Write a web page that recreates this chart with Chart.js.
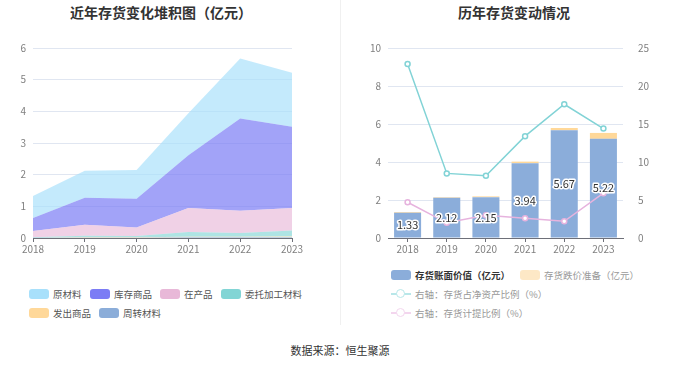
<!DOCTYPE html>
<html>
<head>
<meta charset="utf-8">
<script src="https://cdn.jsdelivr.net/npm/chart.js@4.4.1/dist/chart.umd.min.js"></script>
<style>
  body { margin: 0; background: #fff; font-family: "Noto Sans CJK SC", sans-serif; }
  #page { position: relative; width: 680px; height: 367px; overflow: hidden; }
  .title { position: absolute; top: 2px; font-size: 14px; font-weight: bold; color: #333; transform: translateX(-50%); white-space: nowrap; }
  .box { position: absolute; top: 0; width: 340px; height: 262px; }
  .divider { position: absolute; left: 340px; top: 0; width: 1px; height: 325px; background: #f0f0f0; }
  .leg { position: absolute; display: flex; align-items: center; font-size: 9.5px; color: #555; white-space: nowrap; transform: translateY(-50%); }
  .sw { width: 20px; height: 10px; border-radius: 3px; margin-right: 4px; }
  .lm { position: relative; width: 20px; height: 10px; margin-right: 4px; }
  .lm i { position: absolute; left: 0; top: 4px; width: 20px; height: 1.5px; }
  .lm b { position: absolute; left: 5px; top: 0; width: 7px; height: 7px; border-radius: 50%; background: #fff; border: 1.5px solid; }
  #source { position: absolute; left: 0; width: 680px; top: 342px; text-align: center; font-size: 11px; color: #333; }
</style>
</head>
<body>
<div id="page">
  <div class="title" style="left:161px">近年存货变化堆积图（亿元）</div>
  <div class="title" style="left:514px">历年存货变动情况</div>
  <div class="box" style="left:0"><canvas id="stackChart" width="340" height="262"></canvas></div>
  <div class="box" style="left:340px"><canvas id="barChart" width="340" height="262"></canvas></div>
  <div class="divider"></div>
  <div id="legends"></div>
  <div id="source">数据来源：恒生聚源</div>
</div>
<script>
'use strict';

// categories
let years = ['2018', '2019', '2020', '2021', '2022', '2023'];

// left chart: inventory composition (亿元)
let rawMaterial = [0.70, 0.85, 0.91, 1.33, 1.90, 1.71];    // 原材料
let finishedGoods = [0.41, 0.85, 0.91, 1.66, 2.91, 2.56];  // 库存商品
let inProcess = [0.20, 0.35, 0.27, 0.76, 0.70, 0.71];      // 在产品
let consigned = [0.01, 0.05, 0.04, 0.15, 0.12, 0.19];      // 委托加工材料
let goodsShipped = [0.00, 0.01, 0.01, 0.02, 0.02, 0.03];   // 发出商品
let turnover = [0.01, 0.01, 0.01, 0.02, 0.02, 0.02];       // 周转材料

// right chart
let bookValue = [1.33, 2.12, 2.15, 3.94, 5.67, 5.22];       // 存货账面价值（亿元）
let impairment = [0.04, 0.03, 0.04, 0.08, 0.12, 0.31];      // 存货跌价准备（亿元）
let netAssetRatio = [22.9, 8.5, 8.2, 13.4, 17.6, 14.4];     // 存货占净资产比例（%）
let provisionRatio = [4.7, 2.0, 3.0, 2.6, 2.2, 5.9];        // 存货计提比例（%）

let leftTicks = [0, 1, 2, 3, 4, 5, 6];
let rightTicks = [0, 2, 4, 6, 8, 10];
let rightTicks2 = [0, 5, 10, 15, 20, 25];

const tickFont = { family: '"Noto Sans CJK SC", sans-serif', size: 10 };
const tickColor = '#7f7f7f';
const gridColor = '#e0e6f1';
const axisColor = '#6e7079';

// stacked area chart
let areaSeries = [
  { label: '周转材料', data: turnover, color: 'rgba(139,173,217,0.7)', swatch: '#8badd9' },
  { label: '发出商品', data: goodsShipped, color: 'rgba(255,216,153,0.7)', swatch: '#ffd899' },
  { label: '委托加工材料', data: consigned, color: 'rgba(130,213,213,0.65)', swatch: '#82d5d5' },
  { label: '在产品', data: inProcess, color: 'rgba(232,184,216,0.65)', swatch: '#e8b8d8' },
  { label: '库存商品', data: finishedGoods, color: 'rgba(123,124,245,0.7)', swatch: '#7b7cf5' },
  { label: '原材料', data: rawMaterial, color: 'rgba(168,224,251,0.68)', swatch: '#a8e0fb' }
];

let areaDatasets = areaSeries.map(function(s, i) {
  return {
    label: s.label,
    data: s.data,
    backgroundColor: s.color,
    borderWidth: 0,
    pointRadius: 0,
    tension: 0,
    fill: i === 0 ? 'origin' : '-1'
  };
});

new Chart(document.getElementById('stackChart'), {
  type: 'line',
  data: { labels: years, datasets: areaDatasets },
  options: {
    responsive: false,
    animation: false,
    devicePixelRatio: 1,
    layout: { padding: { left: 0, right: 48, top: 48, bottom: 2 } },
    plugins: { legend: { display: false }, tooltip: { enabled: false } },
    scales: {
      x: {
        offset: false,
        grid: { display: true, drawOnChartArea: false, drawTicks: true, tickLength: 4, color: axisColor },
        border: { color: axisColor },
        ticks: { color: tickColor, font: tickFont, padding: 1, maxRotation: 0 },
        afterFit: function(scale) { scale.height = 22; }
      },
      y: {
        stacked: true,
        min: leftTicks[0],
        max: leftTicks[leftTicks.length - 1],
        ticks: { stepSize: 1, color: tickColor, font: tickFont, padding: 7 },
        grid: { color: gridColor, drawTicks: false },
        border: { display: false },
        afterFit: function(scale) { scale.width = 33; }
      }
    }
  }
});

// labels inside the book value bars
const barLabels = {
  id: 'barLabels',
  afterDatasetsDraw(chart) {
    const ctx = chart.ctx;
    const meta = chart.getDatasetMeta(0);
    ctx.save();
    ctx.font = '11px "Noto Sans CJK SC", sans-serif';
    ctx.textAlign = 'center';
    ctx.textBaseline = 'middle';
    ctx.lineJoin = 'round';
    meta.data.forEach(function(bar, i) {
      let y = (bar.y + bar.base) / 2;
      let text = bookValue[i].toFixed(2);
      ctx.strokeStyle = '#fff';
      ctx.lineWidth = 3;
      ctx.strokeText(text, bar.x, y);
      ctx.fillStyle = '#333';
      ctx.fillText(text, bar.x, y);
    });
    ctx.restore();
  }
};

new Chart(document.getElementById('barChart'), {
  type: 'bar',
  data: {
    labels: years,
    datasets: [
      { label: '存货账面价值（亿元）', data: bookValue, backgroundColor: '#8badda', stack: 's', order: 2, yAxisID: 'y', barPercentage: 0.69, categoryPercentage: 1 },
      { label: '存货跌价准备（亿元）', data: impairment, backgroundColor: '#ffd899', stack: 's', order: 2, yAxisID: 'y', barPercentage: 0.69, categoryPercentage: 1 },
      { type: 'line', label: '右轴：存货占净资产比例（%）', data: netAssetRatio, borderColor: '#82d3d6', borderWidth: 1.5, pointRadius: 2.5, pointBorderWidth: 1.5, pointBackgroundColor: '#fff', pointBorderColor: '#82d3d6', tension: 0, yAxisID: 'y1', order: 1 },
      { type: 'line', label: '右轴：存货计提比例（%）', data: provisionRatio, borderColor: '#e6b3de', borderWidth: 1.5, pointRadius: 2.5, pointBorderWidth: 1.5, pointBackgroundColor: '#fff', pointBorderColor: '#e6b3de', tension: 0, yAxisID: 'y1', order: 0 }
    ]
  },
  options: {
    responsive: false,
    animation: false,
    devicePixelRatio: 1,
    layout: { padding: { left: 0, right: 0, top: 48, bottom: 2 } },
    plugins: { legend: { display: false }, tooltip: { enabled: false } },
    scales: {
      x: {
        stacked: true,
        offset: true,
        grid: { display: true, offset: false, drawOnChartArea: false, drawTicks: true, tickLength: 4, color: axisColor },
        border: { color: axisColor },
        ticks: { color: tickColor, font: tickFont, padding: 1, maxRotation: 0 },
        afterFit: function(scale) { scale.height = 22; }
      },
      y: {
        stacked: true,
        position: 'left',
        min: rightTicks[0],
        max: rightTicks[rightTicks.length - 1],
        ticks: { stepSize: 2, color: tickColor, font: tickFont, padding: 7 },
        grid: { color: gridColor, drawTicks: false },
        border: { display: false },
        afterFit: function(scale) { scale.width = 48; }
      },
      y1: {
        position: 'right',
        min: rightTicks2[0],
        max: rightTicks2[rightTicks2.length - 1],
        ticks: { stepSize: 5, color: tickColor, font: tickFont, padding: 7 },
        grid: { display: false },
        border: { display: false },
        afterFit: function(scale) { scale.width = 57; }
      }
    }
  },
  plugins: [barLabels]
});

// html legends
let legendItems = [
  { text: '原材料', swatch: '#a8e0fb', x: 29, y: 294 },
  { text: '库存商品', swatch: '#7b7cf5', x: 90, y: 294 },
  { text: '在产品', swatch: '#e8b8d8', x: 160, y: 294 },
  { text: '委托加工材料', swatch: '#82d5d5', x: 221, y: 294 },
  { text: '发出商品', swatch: '#ffd899', x: 29, y: 313 },
  { text: '周转材料', swatch: '#8badd9', x: 99, y: 313 },
  { text: '存货账面价值（亿元）', swatch: '#8badda', x: 391, y: 275, color: '#333', bold: true },
  { text: '存货跌价准备（亿元）', swatch: '#fde8c6', x: 520, y: 275, color: '#999' },
  { text: '右轴：存货占净资产比例（%）', line: '#b8e7e9', x: 391, y: 294, color: '#999' },
  { text: '右轴：存货计提比例（%）', line: '#f3d6ee', x: 391, y: 313, color: '#999' }
];

let legendBox = document.getElementById('legends');
legendItems.forEach(function(item) {
  let el = document.createElement('div');
  el.className = 'leg';
  el.style.left = item.x + 'px';
  el.style.top = item.y + 'px';
  if (item.color) { el.style.color = item.color; }
  if (item.bold) { el.style.fontWeight = 'bold'; }
  let mark = document.createElement('span');
  if (item.line) {
    mark.className = 'lm';
    mark.innerHTML = '<i style="background:' + item.line + '"></i><b style="border-color:' + item.line + '"></b>';
  } else {
    mark.className = 'sw';
    mark.style.background = item.swatch;
  }
  let label = document.createElement('span');
  label.textContent = item.text;
  el.appendChild(mark);
  el.appendChild(label);
  legendBox.appendChild(el);
});
</script>
</body>
</html>
